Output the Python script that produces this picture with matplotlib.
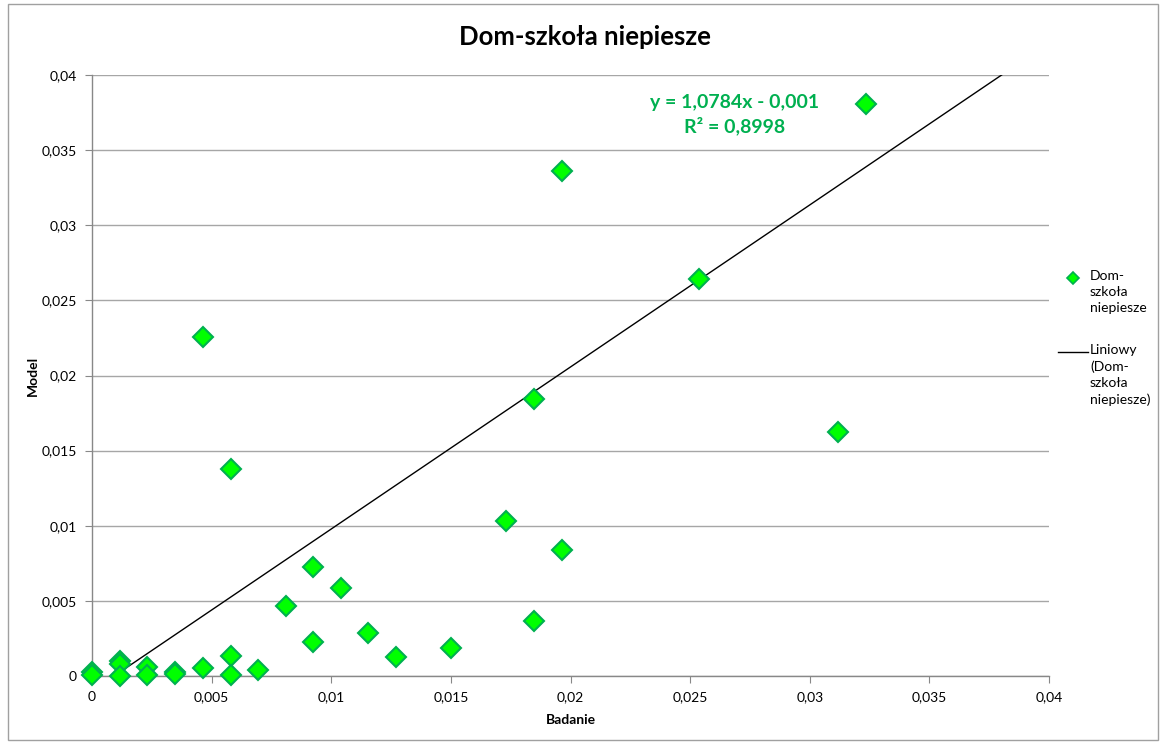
import matplotlib
matplotlib.use("Agg")
import matplotlib.pyplot as plt
from matplotlib.lines import Line2D
from matplotlib.patches import Rectangle

plt.rcParams["font.family"] = ["Lato", "DejaVu Sans"]

# Badanie (x) vs Model (y)
badanie = [0.0, 0.0, 0.00115, 0.00115, 0.00115, 0.00231, 0.00231,
           0.00347, 0.00347, 0.00463, 0.00464, 0.0058, 0.0058, 0.00581,
           0.00695, 0.0081, 0.00925, 0.00925, 0.0104, 0.01155, 0.0127,
           0.0150, 0.0173, 0.01847, 0.01848, 0.01964, 0.01964, 0.02537,
           0.03117, 0.03234]
model = [0.00028, 0.00005, 0.00102, 0.0008, 0.0, 0.00062, 0.00005,
         0.00025, 0.00013, 0.00055, 0.02256, 0.00135, 0.00007, 0.01378,
         0.0004, 0.00468, 0.00724, 0.00224, 0.00584, 0.00284, 0.00124,
         0.00184, 0.01032, 0.01844, 0.00366, 0.03361, 0.00839, 0.02642,
         0.01624, 0.03807]

slope = 1.0784
intercept = -0.001
r2 = 0.8998

ticks = [0, 0.005, 0.01, 0.015, 0.02, 0.025, 0.03, 0.035, 0.04]
tick_labels = ["0", "0,005", "0,01", "0,015", "0,02", "0,025", "0,03", "0,035", "0,04"]

series_label = "Dom-\nszkoła\nniepiesze"
trend_label = "Liniowy\n(Dom-\nszkoła\nniepiesze)"

FACE = "#00ff00"
EDGE = "#00b050"
AXIS_GRAY = "#888888"

fig = plt.figure(figsize=(11.6, 7.44), dpi=100)
ax = fig.add_axes([92 / 1160, 1 - 676 / 744, (1049 - 92) / 1160, (676 - 75) / 744])

ax.plot(badanie, model, linestyle="none", marker="D", markersize=10,
        markerfacecolor=FACE, markeredgecolor=EDGE, markeredgewidth=1.5,
        zorder=3, clip_on=False)

# linia trendu z podanego rownania
xs = [0.0, 0.04]
ys = [slope * x + intercept for x in xs]
ax.plot(xs, ys, color="black", linewidth=1.0, zorder=2)

ax.set_xlim(0, 0.04)
ax.set_ylim(0, 0.04)
ax.set_xticks(ticks)
ax.set_xticklabels(tick_labels)
ax.set_yticks(ticks)
ax.set_yticklabels(tick_labels)
ax.tick_params(direction="out", length=5, color=AXIS_GRAY, labelsize=10, pad=6)

ax.grid(axis="y", color="#a6a6a6", linewidth=1.0)
ax.set_axisbelow(True)
for side in ("top", "right"):
    ax.spines[side].set_visible(False)
for side in ("left", "bottom"):
    ax.spines[side].set_color(AXIS_GRAY)
    ax.spines[side].set_linewidth(1.0)

ax.set_xlabel("Badanie", fontsize=10, fontweight="bold", labelpad=8)
ax.set_ylabel("Model", fontsize=10, fontweight="bold", labelpad=2)

ax.text(0.02687, 0.03734, f"y = {slope:.4f}x - {abs(intercept):.3f}".replace(".", ",")
        + "\n" + f"R² = {r2:.4f}".replace(".", ","),
        ha="center", va="center", fontsize=14, fontweight="bold",
        color=EDGE, linespacing=1.35)

fig.text(585 / 1160, 1 - 37 / 744, "Dom-szkoła niepiesze", ha="center", va="center",
         fontsize=18.5, fontweight="bold")

# legenda po prawej
fig.add_artist(Line2D([1073 / 1160], [1 - 278 / 744], marker="D", markersize=6,
                      markerfacecolor=FACE, markeredgecolor=EDGE,
                      markeredgewidth=1.2, linestyle="none"))
fig.text(1090 / 1160, 1 - 270 / 744, series_label, ha="left", va="top",
         fontsize=10, linespacing=1.4)
fig.add_artist(Line2D([1058 / 1160, 1088 / 1160], [1 - 352 / 744, 1 - 352 / 744],
                      color="black", linewidth=1.0))
fig.text(1090 / 1160, 1 - 344 / 744, trend_label, ha="left", va="top",
         fontsize=10, linespacing=1.4)

# ramka wykresu
fig.add_artist(Rectangle((8 / 1160, 1 - 740 / 744), 1150 / 1160, 736 / 744,
                         transform=fig.transFigure, fill=False,
                         edgecolor="#a0a0a0", linewidth=1.0))

fig.savefig("out.png", dpi=100)
